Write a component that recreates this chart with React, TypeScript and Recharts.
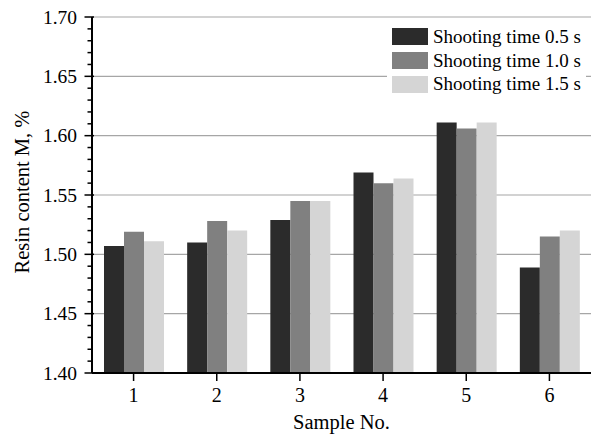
import { BarChart, Bar, XAxis, YAxis, CartesianGrid, Legend } from 'recharts'

const samples = ['1', '2', '3', '4', '5', '6']
const shoot05 = [1.507, 1.51, 1.529, 1.569, 1.611, 1.489]
const shoot10 = [1.519, 1.528, 1.545, 1.56, 1.606, 1.515]
const shoot15 = [1.511, 1.52, 1.545, 1.564, 1.611, 1.52]
const majorTicks = [1.4, 1.45, 1.5, 1.55, 1.6, 1.65, 1.7]
const allTicks = Array.from({ length: 31 }, (_, i) => Number((1.4 + i * 0.01).toFixed(2)))

const font = '"Liberation Serif", "Times New Roman", serif'

const data = samples.map((s, i) => ({
  sample: s,
  t05: shoot05[i],
  t10: shoot10[i],
  t15: shoot15[i],
}))

function YTick(props: any) {
  const { x, y, payload } = props
  const v = payload.value as number
  const major = majorTicks.some((m) => Math.abs(m - v) < 1e-6)
  return (
    <g>
      <line x1={x - (major ? 7.5 : 4.5)} x2={x + (major ? 2 : 0)} y1={y} y2={y} stroke="#000" strokeWidth={1.5} />
      {major && (
        <text x={x - 15} y={y} dy="0.34em" textAnchor="end" fontFamily={font} fontSize={19.5} fill="#000">
          {v.toFixed(2)}
        </text>
      )}
    </g>
  )
}

function LegendBox(props: any) {
  const { payload } = props
  return (
    <div style={{ background: '#fff', width: 199, paddingLeft: 5, boxSizing: 'border-box' }}>
      {payload.map((entry: any) => (
        <div key={entry.value} style={{ display: 'flex', alignItems: 'center', height: 23.8 }}>
          <span style={{ display: 'inline-block', width: 36, height: 17, background: entry.color, marginRight: 5 }} />
          <span style={{ fontFamily: font, fontSize: 19, color: '#000', whiteSpace: 'nowrap', lineHeight: '20px' }}>
            {entry.value}
          </span>
        </div>
      ))}
    </div>
  )
}

export default function App() {
  return (
    <div style={{ position: 'absolute', left: 0, top: 0, width: 592, height: 436, background: '#fff' }}>
      <BarChart
        width={592}
        height={436}
        data={data}
        margin={{ top: 17, right: 1, bottom: 0, left: 0 }}
        barGap={0}
        barSize={20}
      >
        <CartesianGrid vertical={false} horizontalValues={majorTicks} stroke="#a6a6a6" strokeWidth={1.2} />
        <XAxis
          dataKey="sample"
          height={63}
          stroke="#000"
          axisLine={{ stroke: '#000', strokeWidth: 2 }}
          tickLine={{ stroke: '#000', strokeWidth: 1.5 }}
          tickSize={8}
          tickMargin={7}
          tick={{ fontFamily: font, fontSize: 20, fill: '#000' }}
          label={{ value: 'Sample No.', position: 'insideBottom', offset: 7, fontFamily: font, fontSize: 20.5, fill: '#000' }}
        />
        <XAxis xAxisId="top" dataKey="sample" orientation="top" height={0} tick={false} tickLine={false} axisLine={{ stroke: '#000', strokeWidth: 2 }} />
        <YAxis
          width={92}
          domain={[1.4, 1.7]}
          ticks={allTicks}
          interval={0}
          tickSize={0}
          tickMargin={0}
          tickLine={false}
          axisLine={{ stroke: '#000', strokeWidth: 2 }}
          tick={<YTick />}
          allowDataOverflow
          label={{
            content: (p: any) => {
              const vb = p.viewBox
              const cx = 22
              const cy = vb.y + vb.height / 2 - 3
              return (
                <text x={cx} y={cy} transform={`rotate(-90, ${cx}, ${cy})`} textAnchor="middle" dominantBaseline="central" fontFamily={font} fontSize={20.5} fill="#000">
                  Resin content M, %
                </text>
              )
            },
          }}
        />
        <YAxis yAxisId="right" orientation="right" width={0} domain={[1.4, 1.7]} tick={false} tickLine={false} axisLine={{ stroke: '#000', strokeWidth: 2 }} />
        <Legend
          layout="horizontal"
          verticalAlign="middle"
          align="center"
          wrapperStyle={{ top: 25, left: 387, width: 199 }}
          content={<LegendBox />}
        />
        <Bar dataKey="t05" name="Shooting time 0.5 s" fill="#2b2b2b" isAnimationActive={false} />
        <Bar dataKey="t10" name="Shooting time 1.0 s" fill="#808080" isAnimationActive={false} />
        <Bar dataKey="t15" name="Shooting time 1.5 s" fill="#d5d5d5" isAnimationActive={false} />
      </BarChart>
    </div>
  )
}
